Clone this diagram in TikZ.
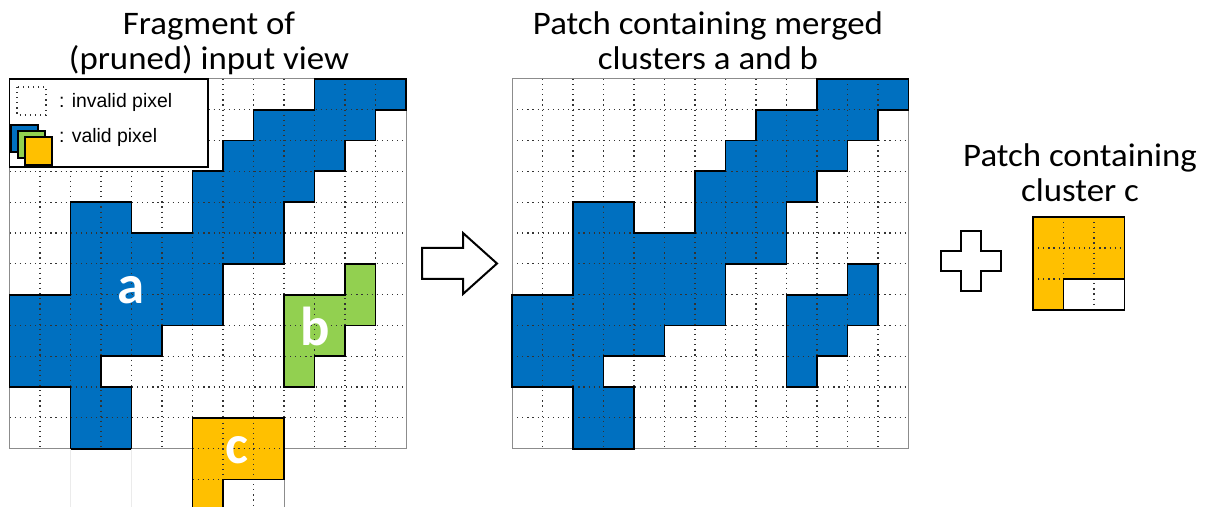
\documentclass[tikz,border=0pt]{standalone}
\usepackage{fontspec}
\newfontfamily\titlefont[FakeStretch=1.06]{Carlito}
\newfontfamily\labelfont{Carlito}
\newfontfamily\legendfont{Liberation Sans}
\definecolor{clublue}{HTML}{0070C0}
\definecolor{clugreen}{HTML}{92D050}
\definecolor{cluyellow}{HTML}{FFC000}
\tikzset{
  title/.style={anchor=base,inner sep=0pt,font=\titlefont\fontsize{33}{38}\selectfont},
  legtext/.style={anchor=base west,inner sep=0pt,font=\legendfont\fontsize{19.5}{22}\selectfont},
  clulabel/.style={inner sep=0pt,text=white,font=\labelfont\bfseries\fontsize{55}{60}\selectfont},
  pixdots/.style={black!80,line width=1.2bp,dash pattern=on 1.2bp off 3.9bp},
  cluline/.style={black,line width=1.8bp,line join=miter},
  frameline/.style={black!45,line width=1bp},
  shapeline/.style={black,line width=2bp,fill=white,line join=miter},
}
\begin{document}
\begin{tikzpicture}[x=1bp,y=-1bp]
\useasboundingbox (0,0) rectangle (1206,507);
\clip (0,0) rectangle (1206,507);
\fill[white] (0,0) rectangle (1206,507);
%% titles
\node (title_frag_1) at (209,35) [title] {Fragment of};
\node (title_frag_2) at (209,70) [title] {(pruned) input view};
\node (title_merge_1) at (708,35) [title] {Patch containing merged};
\node (title_merge_2) at (708,70) [title] {clusters a and b};
\node (title_patch_1) at (1080,167) [title] {Patch containing};
\node (title_patch_2) at (1080,202) [title] {cluster c};
%% input view and merged patch
\foreach \gx/\bcol in {9.5/clugreen,512/clublue} {
\begin{scope}[shift={(\gx,79)},x=30.5bp,y=-30.8bp]
  \fill[clublue] (10,0) -- (13,0) -- (13,1) -- (12,1) -- (12,2) -- (11,2) -- (11,3) -- (10,3) -- (10,4) -- (9,4) -- (9,6) -- (7,6) -- (7,8) -- (5,8) -- (5,9) -- (3,9) -- (3,10) -- (4,10) -- (4,12) -- (2,12) -- (2,10) -- (0,10) -- (0,7) -- (2,7) -- (2,4) -- (4,4) -- (4,5) -- (6,5) -- (6,3) -- (7,3) -- (7,2) -- (8,2) -- (8,1) -- (10,1) -- cycle;
  \fill[\bcol] (11,6) -- (12,6) -- (12,8) -- (11,8) -- (11,9) -- (10,9) -- (10,10) -- (9,10) -- (9,7) -- (11,7) -- cycle;
  \foreach \i in {1,...,12} \draw[pixdots] (\i,0) -- (\i,12);
  \foreach \j in {1,...,11} \draw[pixdots] (0,\j) -- (13,\j);
  \draw[frameline] (0,0) rectangle (13,12);
  \draw[cluline] (10,0) -- (13,0) -- (13,1) -- (12,1) -- (12,2) -- (11,2) -- (11,3) -- (10,3) -- (10,4) -- (9,4) -- (9,6) -- (7,6) -- (7,8) -- (5,8) -- (5,9) -- (3,9) -- (3,10) -- (4,10) -- (4,12) -- (2,12) -- (2,10) -- (0,10) -- (0,7) -- (2,7) -- (2,4) -- (4,4) -- (4,5) -- (6,5) -- (6,3) -- (7,3) -- (7,2) -- (8,2) -- (8,1) -- (10,1) -- cycle;
  \draw[cluline] (11,6) -- (12,6) -- (12,8) -- (11,8) -- (11,9) -- (10,9) -- (10,10) -- (9,10) -- (9,7) -- (11,7) -- cycle;
\end{scope}
}
%% cluster c hanging below the input view
\begin{scope}[shift={(9.5,79)},x=30.5bp,y=-30.8bp]
  \draw[black!8,line width=1bp] (2,12) -- (2,14.5) (4,12) -- (4,14.5);
  \fill[cluyellow] (6,11) -- (9,11) -- (9,13) -- (7,13) -- (7,14.5) -- (6,14.5) -- cycle;
  \draw[pixdots] (7,11) -- (7,13) (8,11) -- (8,14.5) (6,12) -- (9,12) (6,13) -- (7,13);
  \draw[frameline] (9,12) -- (9,14.5);
  \draw[cluline] (6,14.5) -- (6,11) -- (9,11) -- (9,13) -- (7,13) -- (7,14.5);
\end{scope}
%% legend
\draw[black,line width=1.5bp,fill=white] (9.5,79) rectangle (208,167);
\draw[pixdots] (17,87) rectangle (46,115);
\draw[cluline,fill=clublue] (11,125) rectangle (38,152);
\draw[cluline,fill=clugreen] (18,131) rectangle (45,158);
\draw[cluline,fill=cluyellow] (25,137) rectangle (52,165);
\node (leg_invalid) at (59,108) [legtext] {: invalid pixel};
\node (leg_valid) at (59,143) [legtext] {: valid pixel};
%% cluster names
\node (name_a) at (131.5,290) [clulabel] {a};
\node (name_b) at (315.5,326) [clulabel] {b};
\node (name_c) at (237,450) [clulabel] {c};
%% arrow and plus
\draw[shapeline] (422,248) -- (463,248) -- (463,233) -- (497,263.5) -- (463,294) -- (463,279) -- (422,279) -- cycle;
\draw[shapeline] (960.5,231.5) -- (980.5,231.5) -- (980.5,251.5) -- (1000.5,251.5) -- (1000.5,271.5) -- (980.5,271.5) -- (980.5,291.5) -- (960.5,291.5) -- (960.5,271.5) -- (940.5,271.5) -- (940.5,251.5) -- (960.5,251.5) -- cycle;
%% patch with cluster c
\begin{scope}[shift={(1033,217)},x=30.5bp,y=-31bp]
  \fill[cluyellow] (0,0) -- (3,0) -- (3,2) -- (1,2) -- (1,3) -- (0,3) -- cycle;
  \draw[pixdots] (1,0) -- (1,2) (2,0) -- (2,3) (0,1) -- (3,1) (0,2) -- (1,2);
  \draw[cluline] (0,0) rectangle (3,3);
  \draw[cluline] (1,3) -- (1,2) -- (3,2);
\end{scope}
\end{tikzpicture}
\end{document}
